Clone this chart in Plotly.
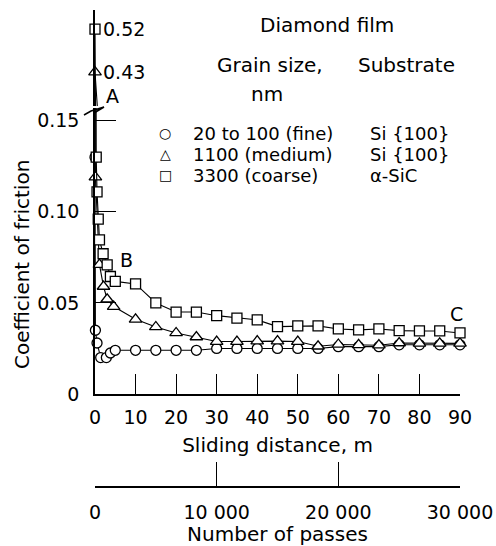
import plotly.graph_objects as go

# ---------------- data ----------------
dist_fine = [0, 0.1, 0.5, 1.4, 2.8, 3.8, 5, 10, 15, 20, 25, 30, 35, 40, 45, 50,
             55, 60, 65, 70, 75, 80, 85, 90]
cof_fine = [0.130, 0.035, 0.028, 0.020, 0.020, 0.0225, 0.024, 0.024, 0.024, 0.024,
            0.024, 0.025, 0.025, 0.025, 0.025, 0.025, 0.025, 0.026, 0.026, 0.026,
            0.027, 0.027, 0.027, 0.027]

dist_medium = [0, 0.1, 1.1, 2.1, 3.0, 4.6, 10, 15, 20, 25, 30, 35, 40, 45, 50,
               55, 60, 65, 70, 75, 80, 85, 90]
cof_medium = [0.43, 0.119, 0.071, 0.059, 0.052, 0.048, 0.041, 0.0368, 0.0335, 0.0313,
              0.0288, 0.0288, 0.029, 0.029, 0.0288, 0.0262, 0.0272, 0.027, 0.0268,
              0.028, 0.0278, 0.0278, 0.0278]

dist_coarse = [0, 0.3, 0.5, 0.8, 1.1, 2.0, 3.0, 3.8, 5, 10, 15, 20, 25, 30, 35, 40,
               45, 50, 55, 60, 65, 70, 75, 80, 85, 90]
cof_coarse = [0.52, 0.130, 0.111, 0.096, 0.0846, 0.077, 0.0709, 0.0645, 0.0618, 0.0604,
              0.050, 0.045, 0.045, 0.043, 0.0417, 0.0407, 0.037, 0.0374, 0.0374, 0.0357,
              0.0352, 0.0357, 0.0348, 0.0346, 0.0346, 0.0335]

grain_labels = ["20 to 100 (fine)", "1100 (medium)", "3300 (coarse)"]
substrate_labels = ["Si {100}", "Si {100}", "\u03b1-SiC"]
legend_symbols = ["\u25cb", "\u25b3", "\u25a1"]

dist_ticks = [0, 10, 20, 30, 40, 50, 60, 70, 80, 90]
cof_ticks = [0, 0.05, 0.10, 0.15]
cof_tick_text = ["0", "0.05", "0.10", "0.15"]
pass_ticks = [0, 10000, 20000, 30000]

# ---------------- layout geometry ----------------
W, H = 496, 546
ML, MR, MT, MB = 95, 36, 10, 59
PW, PH = W - ML - MR, H - MT - MB


def pxx(x):
    return (x - ML) / PW


def pxy(y):
    return (H - MB - y) / PH


LOW_RANGE = [0, 0.157]
UP_RANGE = [0.359, 0.560]
LOW_DOM = [pxy(394), pxy(108)]
UP_DOM = [pxy(106), pxy(10)]

FONT = "DejaVu Sans"
fig = go.Figure()

series = [
    (dist_fine, cof_fine, "circle", 10),
    (dist_medium, cof_medium, "triangle-up", 11),
    (dist_coarse, cof_coarse, "square", 10),
]

for xs, ys, sym, size in series:
    for yax, rng in (("y", LOW_RANGE), ("y2", UP_RANGE)):
        fig.add_trace(go.Scatter(x=xs, y=ys, mode="lines", yaxis=yax,
                                 line=dict(color="black", width=1.1),
                                 showlegend=False, hoverinfo="skip"))
        mx = [x for x, y in zip(xs, ys) if rng[0] <= y <= rng[1]]
        my = [y for y in ys if rng[0] <= y <= rng[1]]
        fig.add_trace(go.Scatter(x=mx, y=my, mode="markers", yaxis=yax,
                                 cliponaxis=False,
                                 marker=dict(symbol=sym, size=size, color="white",
                                             line=dict(color="black", width=1.3)),
                                 showlegend=False))

# empty trace to carry the "number of passes" axis
fig.add_trace(go.Scatter(x=[], y=[], xaxis="x2", yaxis="y", showlegend=False))

axis_common = dict(showgrid=False, zeroline=False, showline=True, linecolor="black",
                   linewidth=1.5, ticks="inside", tickcolor="black", tickwidth=1.2,
                   tickfont=dict(family=FONT, size=19, color="black"), automargin=False)

fig.update_layout(
    width=W, height=H,
    margin=dict(l=ML, r=MR, t=MT, b=MB),
    paper_bgcolor="white", plot_bgcolor="white",
    font=dict(family=FONT, size=19, color="black"),
    xaxis=dict(axis_common, domain=[0, 1], range=[0, 90], anchor="y",
               tickvals=dist_ticks, ticklen=20, ticklabelstandoff=5,
               title=dict(text="Sliding distance, m",
                          font=dict(family=FONT, size=20), standoff=11)),
    xaxis2=dict(axis_common, domain=[0, 1], range=[0, 30000], overlaying="x",
                anchor="free", position=0, side="bottom",
                tickvals=pass_ticks,
                ticktext=[f"{v:,}".replace(",", " ") for v in pass_ticks],
                ticklen=24, ticklabelstandoff=8,
                title=dict(text="Number of passes",
                           font=dict(family=FONT, size=20), standoff=9)),
    yaxis=dict(axis_common, domain=LOW_DOM, range=LOW_RANGE, anchor="x",
               tickvals=cof_ticks, ticktext=cof_tick_text, ticklen=21,
               ticklabelstandoff=10),
    yaxis2=dict(axis_common, domain=UP_DOM, range=UP_RANGE, anchor="x",
                ticks="", showticklabels=False),
    showlegend=False,
)

ann = []
# values above the break
ann.append(dict(x=0, y=cof_coarse[0], xref="x", yref="y2", text=f"{cof_coarse[0]:.2f}",
                xanchor="left", yanchor="middle", xshift=6, showarrow=False))
ann.append(dict(x=0, y=cof_medium[0], xref="x", yref="y2", text=f"{cof_medium[0]:.2f}",
                xanchor="left", yanchor="middle", xshift=6, showarrow=False))
for t, xx, yy in (("A", 112, 96), ("B", 126, 260), ("C", 456, 314)):
    ann.append(dict(x=pxx(xx), y=pxy(yy), xref="paper", yref="paper", text=t,
                    xanchor="center", yanchor="middle", showarrow=False))
# y-axis title
ann.append(dict(x=pxx(22), y=pxy(265), xref="paper", yref="paper",
                text="Coefficient of friction", textangle=-90, showarrow=False,
                font=dict(family=FONT, size=20), xanchor="center", yanchor="middle"))
# legend block
ann.append(dict(x=pxx(327), y=pxy(25), xref="paper", yref="paper", text="Diamond film",
                showarrow=False, xanchor="center", yanchor="middle",
                font=dict(family=FONT, size=20)))
ann.append(dict(x=pxx(215), y=pxy(65), xref="paper", yref="paper", text="Grain size,",
                showarrow=False, xanchor="left", yanchor="middle",
                font=dict(family=FONT, size=20)))
ann.append(dict(x=pxx(267), y=pxy(94), xref="paper", yref="paper", text="nm",
                showarrow=False, xanchor="center", yanchor="middle",
                font=dict(family=FONT, size=20)))
ann.append(dict(x=pxx(356), y=pxy(65), xref="paper", yref="paper", text="Substrate",
                showarrow=False, xanchor="left", yanchor="middle",
                font=dict(family=FONT, size=20)))
row_y = [133, 154, 175]
for sym, g, s, ry in zip(legend_symbols, grain_labels, substrate_labels, row_y):
    ann.append(dict(x=pxx(165), y=pxy(ry), xref="paper", yref="paper", text=sym,
                    showarrow=False, xanchor="center", yanchor="middle",
                    font=dict(family=FONT, size=14)))
    ann.append(dict(x=pxx(191), y=pxy(ry), xref="paper", yref="paper", text=g,
                    showarrow=False, xanchor="left", yanchor="middle",
                    font=dict(family=FONT, size=18)))
    ann.append(dict(x=pxx(368), y=pxy(ry), xref="paper", yref="paper", text=s,
                    showarrow=False, xanchor="left", yanchor="middle",
                    font=dict(family=FONT, size=18)))
fig.update_layout(annotations=ann)

# axis-break zigzag
brk = [(84, 115), (91, 111), (104, 107), (94, 113)]
path = "M " + " L ".join(f"{pxx(a):.5f},{pxy(b):.5f}" for a, b in brk)
fig.add_shape(type="path", path=path, xref="paper", yref="paper",
              line=dict(color="black", width=1.5))

fig.write_html("out.html")
